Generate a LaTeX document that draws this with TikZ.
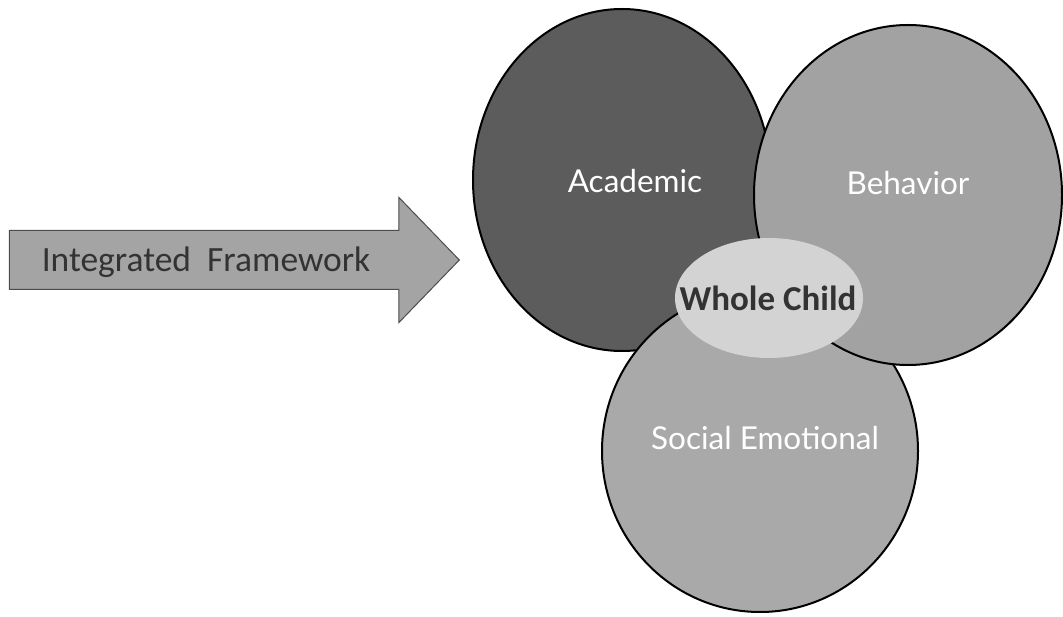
\documentclass[tikz,border=0pt]{standalone}
\usepackage{fontspec}
\setmainfont{Carlito}
\newfontfamily\ringfont{Lato}
\usetikzlibrary{shapes,
                shapes.arrows,
                positioning}
\definecolor{acadgray}{HTML}{5C5C5C}
\definecolor{behavgray}{HTML}{A2A2A2}
\definecolor{socgray}{HTML}{A9A9A9}
\definecolor{childgray}{HTML}{D3D3D3}
\definecolor{arrowgray}{HTML}{A4A4A4}
\tikzset{ring/.style=
   {ellipse,
    draw=black,
    line width=2pt}}
\tikzset{ringlabel/.style=
   {text=white,
    font=\ringfont\fontsize{31.5}{34}\selectfont}}
\tikzset{bigarrow/.style=
   {single arrow,
    draw=black!70,
    line width=1pt,
    fill=arrowgray}}

\begin{document}
\begin{tikzpicture}[x=1pt, y=-1pt]
    \useasboundingbox (0,0) rectangle (1063,617);

    % Arrow
    \node [bigarrow, anchor=tip,
           minimum height=450pt, minimum width=124pt,
           text height=20pt, text depth=6pt, inner ysep=16pt,
           single arrow head extend=33pt, single arrow tip angle=92]
          (frame) at (460,260) {};
    \node [text=black!80, font=\fontsize{35.5}{38}\selectfont]
          (frametext) at (206,262) {Integrated\ \ Framework};

    % Circles
    \node [ring, fill=acadgray, minimum width=298pt, minimum height=342pt]
          (academic) at (622,180) {};
    \node [ring, fill=socgray, minimum width=316pt, minimum height=322pt]
          (social) at (760,451) {};
    \node [ring, fill=behavgray, minimum width=308pt, minimum height=340pt]
          (behavior) at (908,195) {};
    \node [ellipse, fill=childgray, minimum width=188pt, minimum height=120pt]
          (child) at (769,298) {};

    % Labels
    \node [ringlabel] (acadtext) at (635,181) {Academic};
    \node [ringlabel] (behavtext) at (908,183) {Behavior};
    \node [ringlabel] (soctext) at (765,438) {Social Emotional};
    \node [text=black!80, font=\bfseries\fontsize{35}{38}\selectfont]
          (childtext) at (768,298) {Whole Child};

\end{tikzpicture}
\end{document}
